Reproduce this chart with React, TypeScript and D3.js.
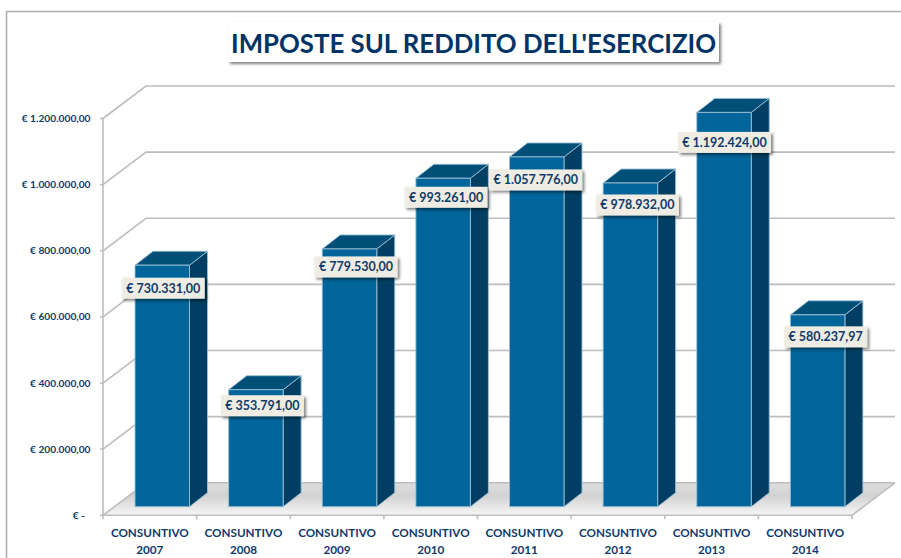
import React from "react";
import * as d3 from "d3";

const categories = ["2007", "2008", "2009", "2010", "2011", "2012", "2013", "2014"];
const values = [730331, 353791, 779530, 993261, 1057776, 978932, 1192424, 580237.97];
const valueLabels = ["€ 730.331,00", "€ 353.791,00", "€ 779.530,00", "€ 993.261,00", "€ 1.057.776,00", "€ 978.932,00", "€ 1.192.424,00", "€ 580.237,97"];
const ticks = [0, 200000, 400000, 600000, 800000, 1000000, 1200000];
const tickLabels = ["€ -", "€ 200.000,00", "€ 400.000,00", "€ 600.000,00", "€ 800.000,00", "€ 1.000.000,00", "€ 1.200.000,00"];
const labelShiftX = [1, 6.5, 6.5, 3, -1, 7, 0.5, 8];
const labelShiftY = [23, 16, 18, 19, 23, 22, 30, 22];

const font = "Lato, 'Open Sans', sans-serif";
const navy = "#0F3A6B";
const wallDx = 43, wallDy = -32.5;
const barDx = 18, barDy = -14;
const baseDy = -8.6;

const y = d3.scaleLinear().domain([0, 1200000]).range([515.3, 118.5]);
const x = d3.scaleBand<string>().domain(categories).range([103, 852]).paddingInner(0).paddingOuter(0);
const barWidth = 54.5;
const barInset = 32;

export default function App() {
  const x0 = x.range()[0], x1 = x.range()[1], y0 = y(0);
  const poly = (p: number[][]) => p.map((d) => d.join(",")).join(" ");
  return (
    <svg width={901} height={558} style={{ position: "absolute", left: 0, top: 0, background: "#fff" }} fontFamily={font}>
      <defs>
        <filter id="sh" x="-20%" y="-30%" width="140%" height="170%">
          <feDropShadow dx="2" dy="2" stdDeviation="1.6" floodColor="#000" floodOpacity="0.5" />
        </filter>
        <linearGradient id="floor" x1="0" y1="1" x2="0" y2="0">
          <stop offset="0" stopColor="#f6f6f6" />
          <stop offset="0.6" stopColor="#d2d2d2" />
          <stop offset="1" stopColor="#dedede" />
        </linearGradient>
      </defs>
      <path d="M6.5 558V11.5H901" fill="none" stroke="#b0b0b0" strokeWidth={1.6} />

      <polygon points={poly([[x0, y0], [x1, y0], [x1 + wallDx, y0 + wallDy], [x0 + wallDx, y0 + wallDy]])} fill="url(#floor)" />
      <g fill="none" stroke="#bdbdbd" strokeWidth={1.6}>
        {ticks.map((t) => (
          <polyline key={t} points={poly([[x0, y(t)], [x0 + wallDx, y(t) + wallDy], [x1 + wallDx, y(t) + wallDy]])} />
        ))}
        <line x1={x0} x2={x0} y1={y(1200000)} y2={y0} />
        <line x1={x0} x2={x1} y1={y0} y2={y0} />
        <line x1={x1} x2={x1 + wallDx} y1={y0} y2={y0 + wallDy} />
        {ticks.map((t) => <line key={t} x1={x0 - 3} x2={x0} y1={y(t)} y2={y(t)} />)}
        {[...categories.map((c) => x(c)!), x1].map((v, i) => <line key={i} x1={v} x2={v} y1={y0} y2={y0 + 4} />)}
      </g>

      {ticks.map((t, i) => (
        <text key={t} x={i === 0 ? 85 : 90.5} y={y(t)} dy="0.35em" textAnchor="end" fontSize={10.2} fontWeight={700} fill={navy}>{tickLabels[i]}</text>
      ))}

      {categories.map((c, i) => {
        const left = x(c)! + barInset;
        const right = left + barWidth;
        const bottom = y0 + baseDy;
        const top = bottom - (y0 - y(values[i]));
        return (
          <g key={c} stroke="#9cc0d4" strokeWidth={0.9} strokeLinejoin="round">
            <polygon points={poly([[right, top], [right + barDx, top + barDy], [right + barDx, bottom + barDy], [right, bottom]])} fill="#003F63" />
            <polygon points={poly([[left, top], [left + barDx, top + barDy], [right + barDx, top + barDy], [right, top]])} fill="#004F78" />
            <rect x={left} y={top} width={barWidth} height={bottom - top} fill="#00659A" />
          </g>
        );
      })}

      {categories.map((c, i) => {
        const center = x(c)! + barInset + barWidth / 2 + labelShiftX[i];
        const top = y0 + baseDy - (y0 - y(values[i]));
        const cy = top + labelShiftY[i];
        const w = valueLabels[i].length > 12 ? 93 : 83;
        return (
          <g key={c}>
            <rect x={center - w / 2} y={cy - 10.5} width={w} height={21} fill="#EFEDE3" filter="url(#sh)" />
            <text x={center} y={cy} dy="0.36em" textAnchor="middle" fontSize={12.5} fontWeight={700} fill={navy}>{valueLabels[i]}</text>
          </g>
        );
      })}

      {categories.map((c) => (
        <text key={c} textAnchor="middle" fontSize={11.7} fontWeight={700} fill={navy}>
          <tspan x={x(c)! + x.bandwidth() / 2} y={537}>CONSUNTIVO</tspan>
          <tspan x={x(c)! + x.bandwidth() / 2} y={554}>{c}</tspan>
        </text>
      ))}

      <rect x={228} y={22} width={491} height={40} fill="#fff" filter="url(#sh)" />
      <text x={473.5} y={52.5} textAnchor="middle" fontSize={27} fontWeight={700} fill="#003366" textLength={485} lengthAdjust="spacingAndGlyphs">IMPOSTE SUL REDDITO DELL'ESERCIZIO</text>
    </svg>
  );
}
